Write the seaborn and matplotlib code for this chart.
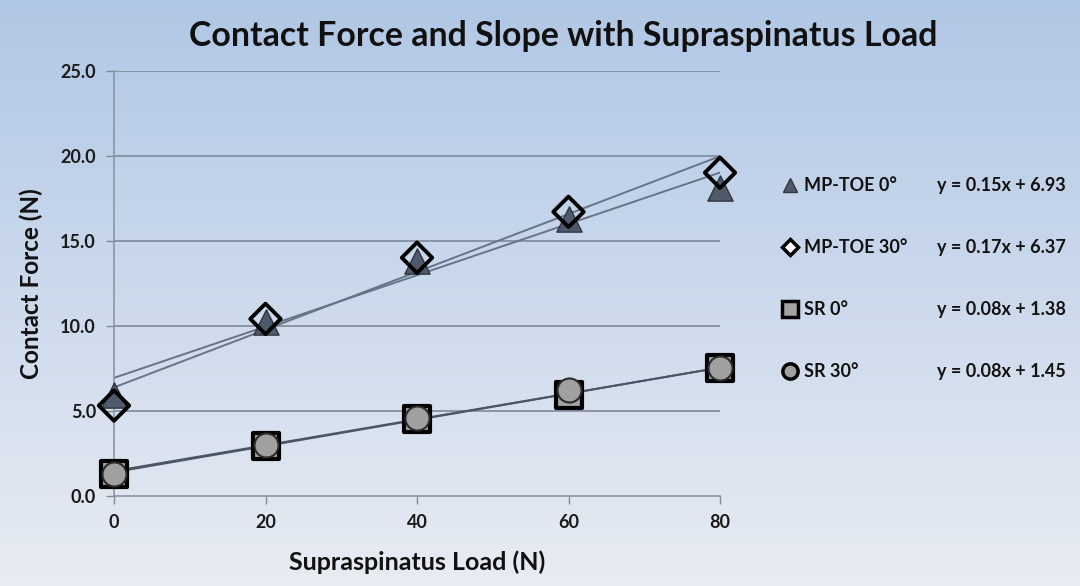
import numpy as np
import pandas as pd
import matplotlib
matplotlib.use("Agg")
import matplotlib.pyplot as plt
from matplotlib.lines import Line2D
import seaborn as sns

# ---- data ----
load = [0, 20, 40, 60, 80]
series_names = ["MP-TOE 0°", "MP-TOE 30°", "SR 0°", "SR 30°"]
mp_toe_0 = [5.9, 10.2, 13.8, 16.3, 18.1]
mp_toe_30 = [5.3, 10.4, 14.0, 16.7, 19.0]
sr_0 = [1.3, 2.9, 4.5, 5.9, 7.5]
sr_30 = [1.3, 3.0, 4.6, 6.2, 7.5]
slopes = [0.151, 0.170, 0.077, 0.076]
intercepts = [6.93, 6.37, 1.38, 1.45]
y_ticks = [0, 5, 10, 15, 20, 25]
x_ticks = [0, 20, 40, 60, 80]

values = [mp_toe_0, mp_toe_30, sr_0, sr_30]

sns.set_theme(style="white")
plt.rcParams["font.family"] = ["Lato", "DejaVu Sans"]
plt.rcParams["font.weight"] = "bold"

fig = plt.figure(figsize=(10.8, 5.86), dpi=100)

# gradient background
bg = fig.add_axes([0, 0, 1, 1], zorder=-10)
top_c = np.array([176, 199, 229]) / 255
bot_c = np.array([232, 236, 243]) / 255
t = np.linspace(0, 1, 256)[:, None]
grad = top_c[None, :] * (1 - t) + bot_c[None, :] * t
bg.imshow(grad[:, None, :], aspect="auto", extent=[0, 1, 0, 1])
bg.set_axis_off()

ax = fig.add_axes([114 / 1080, 1 - 495.7 / 586, (720 - 114) / 1080, (495.7 - 70.7) / 586])
ax.patch.set_alpha(0)

grid_c = "#7d8a9c"
for yv in y_ticks[1:]:
    ax.axhline(yv, color=grid_c, lw=1.2, zorder=1)

# trendlines
xl = np.array([min(load), max(load)])
line_cols = ["#667488", "#667488", "#4a5566", "#4a5566"]
for k in range(4):
    sns.lineplot(x=xl, y=slopes[k] * xl + intercepts[k], color=line_cols[k],
                 lw=1.4, ax=ax, zorder=2)

styles = [
    dict(marker="^", s=330, color="#4e5a6a", edgecolor="#2f3540", linewidth=1.0),
    dict(marker="D", s=240, color="none", edgecolor="black", linewidth=2.8),
    dict(marker="s", s=330, color="#a3a3a3", edgecolor="black", linewidth=3.0),
    dict(marker="o", s=300, color="#a0a0a0", edgecolor="#2b2b2b", linewidth=1.5),
]
orders = [3, 4, 3, 4]
for k in [2, 3, 0, 1]:
    sns.scatterplot(x=load, y=values[k], ax=ax, zorder=orders[k], clip_on=False,
                    **styles[k])

ax.set_xlim(0, 80)
ax.set_ylim(0, 25)
ax.set_xticks(x_ticks)
ax.set_yticks(y_ticks)
ax.set_yticklabels([f"{v:.1f}" for v in y_ticks])
ax.tick_params(axis="both", which="both", direction="out", length=6, width=1,
               color="#7f8a96", labelsize=13, pad=7, labelcolor="#1a1a1a",
               left=True, bottom=True)
for side in ["top", "right"]:
    ax.spines[side].set_visible(False)
for side in ["left", "bottom"]:
    ax.spines[side].set_color("#8a96a4")
    ax.spines[side].set_linewidth(1.2)

ax.set_xlabel("Supraspinatus Load (N)", fontsize=18, fontweight="bold",
              color="#111111", labelpad=14)
ax.set_ylabel("Contact Force (N)", fontsize=17.5, fontweight="bold",
              color="#111111", labelpad=12)

fig.text(563 / 1080, 1 - 36 / 586, "Contact Force and Slope with Supraspinatus Load",
         ha="center", va="center", fontsize=24.4, fontweight="bold", color="#111111")

# legend
leg_styles = [
    dict(marker="^", markersize=10, markerfacecolor="#4e5a6a", markeredgecolor="#2f3540", markeredgewidth=1),
    dict(marker="D", markersize=8, markerfacecolor="white", markeredgecolor="black", markeredgewidth=2.5),
    dict(marker="s", markersize=11, markerfacecolor="#a3a3a3", markeredgecolor="black", markeredgewidth=2.5),
    dict(marker="o", markersize=11, markerfacecolor="#a0a0a0", markeredgecolor="black", markeredgewidth=2.5),
]
handles = [Line2D([], [], linestyle="none", **st) for st in leg_styles]
blank = [Line2D([], [], linestyle="none") for _ in range(4)]
eqs = [f"y = {slopes[k]:.2f}x + {intercepts[k]:.2f}" for k in range(4)]
leg = fig.legend(handles + blank, series_names + eqs, ncol=2,
                 loc="upper left", bbox_to_anchor=(781 / 1080, 1 - 177 / 586),
                 frameon=False, fontsize=13, labelspacing=2.5,
                 handlelength=1.0, handletextpad=0.3, columnspacing=0.3,
                 borderpad=0, borderaxespad=0)
for txt in leg.get_texts():
    txt.set_fontweight("bold")
    txt.set_color("#111111")

fig.savefig("out.png", dpi=100)
